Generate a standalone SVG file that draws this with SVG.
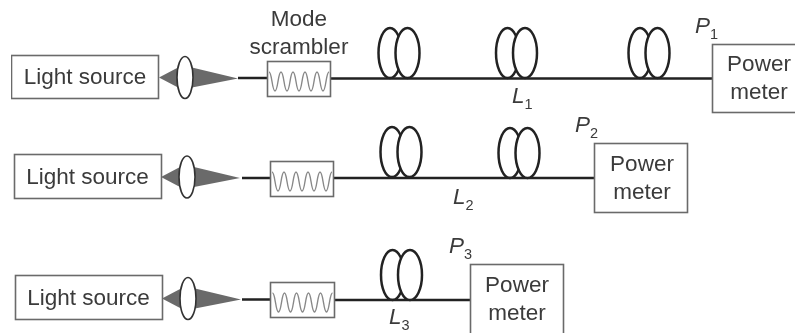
<svg xmlns="http://www.w3.org/2000/svg" width="795" height="333" viewBox="0 0 795 333">
<style>
.box{fill:#fff;stroke:#6a6a6a;stroke-width:1.6}
.t{font-family:"Liberation Sans",Arial,sans-serif;font-size:22.500px;fill:#3a3a3a;text-anchor:middle}
.i{font-family:"Liberation Sans",Arial,sans-serif;font-size:22.500px;font-style:italic;fill:#3a3a3a}
.s{font-size:14.500px;font-style:normal}
.fib{fill:none;stroke:#222;stroke-width:2.6}
.coil{fill:none;stroke:#222;stroke-width:2.5}
.top{fill:#fff}
.lens{fill:#fff;stroke:#333;stroke-width:1.6}
.cone{fill:#6b6b6b}
.wave{fill:none;stroke:#888;stroke-width:1.4}
</style>
<defs>
<filter id="soft" x="0" y="0" width="100%" height="100%"><feGaussianBlur stdDeviation="0.4"/></filter>
<g id="lensCone">
<path class="cone" d="M-26 0L-7-10V10ZM7-10L53 1L7 10Z"/>
<ellipse class="lens" cx="0" cy="0" rx="8" ry="21"/>
</g>
<path id="wave" class="wave" d="M0-6C3-6 3 13 6 13S9-6 12-6S15 13 18 13S21-6 24-6S27 13 30 13S33-6 36-6S39 13 42 13S45-6 48-6S51 13 54 13S57-6 60-6"/>
<g id="coil">
<ellipse class="coil" cx="12" cy="-25" rx="11.500" ry="25"/>
<ellipse class="coil top" cx="29.500" cy="-25" rx="12" ry="25"/>
</g>
</defs>
<rect width="795" height="333" fill="#fff"/>
<g filter="url(#soft)">
<g id="connectors">
<path class="fib" d="M238 78H267M330 78.500H712"/>
<path class="fib" d="M242 178H270M333 178H594"/>
<path class="fib" d="M242 299.500H270M334 300H470"/>
</g>
<g id="source1"><rect class="box" x="11.500" y="55.500" width="147" height="43"/><text class="t" x="85" y="84">Light source</text></g>
<g id="source2"><rect class="box" x="14.500" y="154.500" width="147" height="44"/><text class="t" x="87.500" y="184">Light source</text></g>
<g id="source3"><rect class="box" x="15.500" y="275.500" width="147" height="44"/><text class="t" x="88.500" y="305">Light source</text></g>
<g id="lens1"><use href="#lensCone" x="185" y="77.500"/></g>
<g id="lens2"><use href="#lensCone" x="187" y="177"/></g>
<g id="lens3"><use href="#lensCone" x="188" y="298.500"/></g>
<g id="scrambler1"><rect class="box" x="267.500" y="61.500" width="63" height="35"/><use href="#wave" x="269" y="78"/></g>
<g id="scrambler2"><rect class="box" x="270.500" y="161.500" width="63" height="35"/><use href="#wave" x="272" y="178"/></g>
<g id="scrambler3"><rect class="box" x="270.500" y="282.500" width="64" height="35"/><use href="#wave" x="272.500" y="299"/></g>
<g id="scrambler-label"><text class="t" x="299" y="26">Mode</text><text class="t" x="299" y="54">scrambler</text></g>
<g id="coil1a"><use href="#coil" x="378" y="78"/></g>
<g id="coil1b"><use href="#coil" x="495.500" y="78"/></g>
<g id="coil1c"><use href="#coil" x="628" y="78"/></g>
<g id="coil2a"><use href="#coil" x="380" y="177"/></g>
<g id="coil2b"><use href="#coil" x="498" y="178"/></g>
<g id="coil3a"><use href="#coil" x="380.500" y="300"/></g>
<g id="meter1"><rect class="box" x="712.500" y="44.500" width="90" height="68"/><text class="t" x="759" y="71">Power</text><text class="t" x="759" y="99">meter</text></g>
<g id="meter2"><rect class="box" x="594.500" y="143.500" width="93" height="69"/><text class="t" x="642" y="171">Power</text><text class="t" x="642" y="199">meter</text></g>
<g id="meter3"><rect class="box" x="470.500" y="264.500" width="93" height="72"/><text class="t" x="517" y="292">Power</text><text class="t" x="517" y="320">meter</text></g>
<g id="labels">
<text class="i" x="695" y="33">P<tspan class="s" dy="6">1</tspan></text>
<text class="i" x="575" y="132">P<tspan class="s" dy="6">2</tspan></text>
<text class="i" x="449" y="253">P<tspan class="s" dy="6">3</tspan></text>
<text class="i" x="512" y="103">L<tspan class="s" dy="6">1</tspan></text>
<text class="i" x="453" y="204">L<tspan class="s" dy="6">2</tspan></text>
<text class="i" x="389" y="324">L<tspan class="s" dy="6">3</tspan></text>
</g>
</g>
</svg>
